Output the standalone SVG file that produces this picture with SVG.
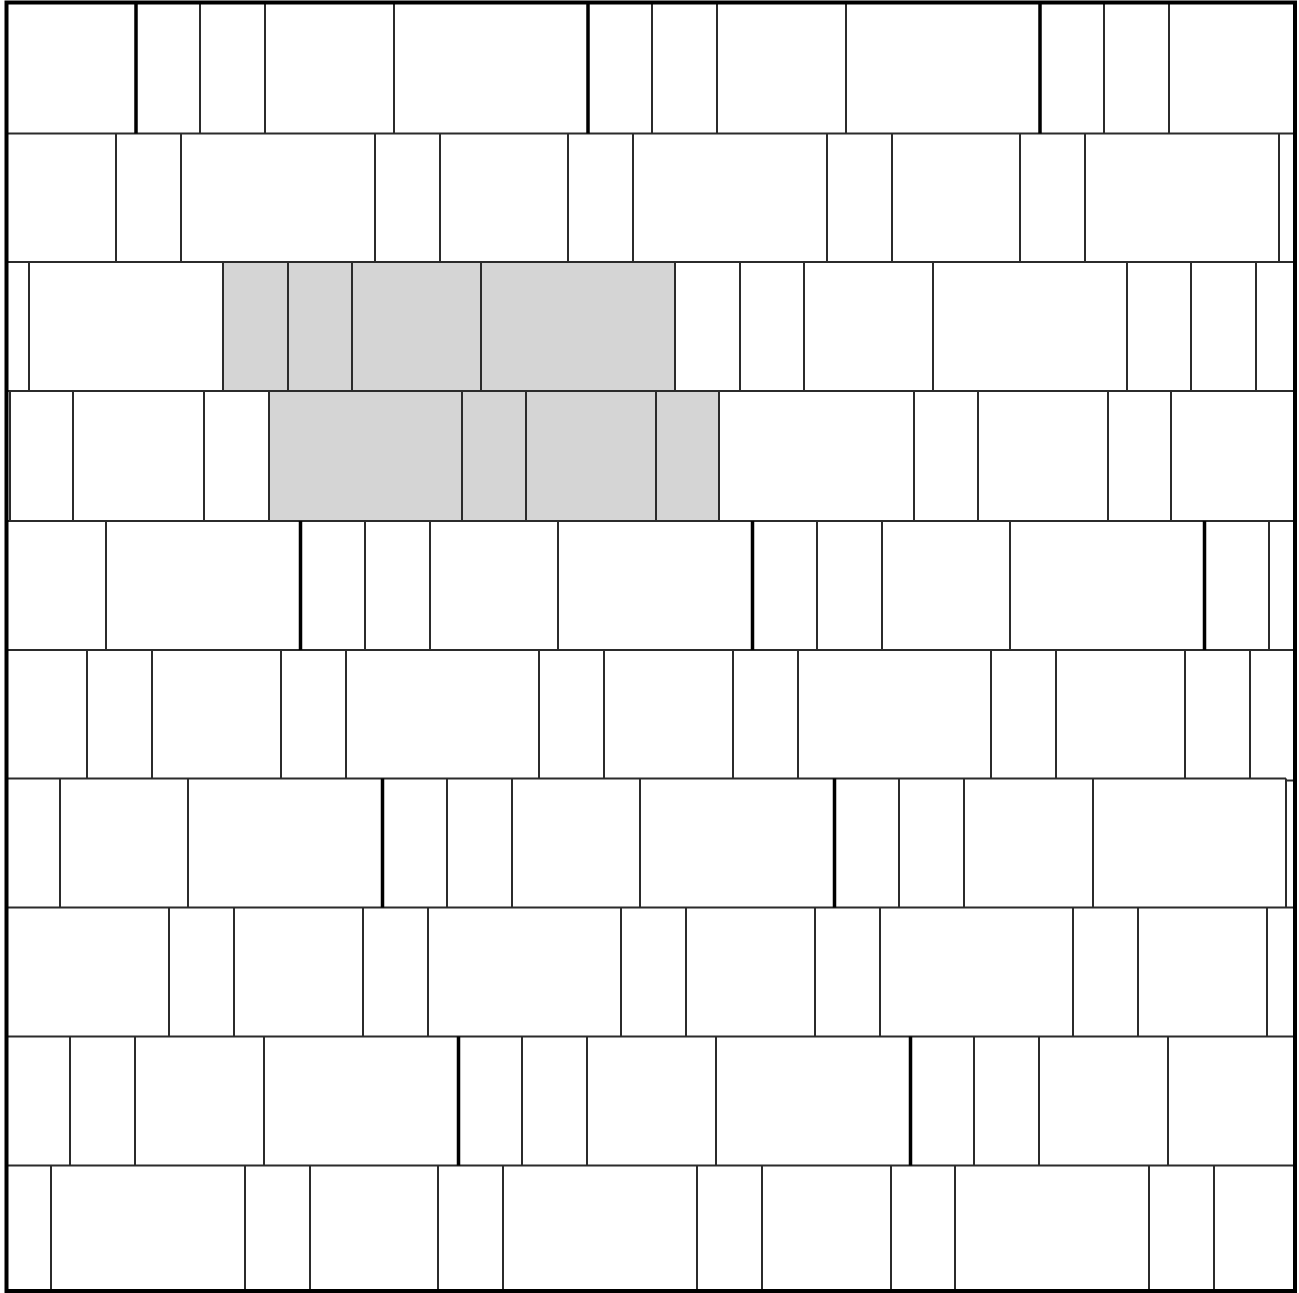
<svg xmlns="http://www.w3.org/2000/svg" width="1299" height="1293" viewBox="0 0 1299 1293">
<style>
.h{stroke:#2b2b2b;stroke-width:2;fill:none}
.v{stroke:#2b2b2b;stroke-width:2;fill:none}
.t{stroke:#000;stroke-width:3.5;fill:none}
.b{stroke:#000;stroke-width:4;fill:none}
.g{fill:#d5d5d5}
</style>
<rect width="1299" height="1293" fill="#fff"/>
<g id="shaded">
<rect class="g" x="223" y="262" width="452" height="129"/>
<rect class="g" x="269" y="391" width="450" height="130"/>
</g>
<g id="horizontal">
<path class="h" d="M6 133.5H1295M6 262H1295M6 391H1295M6 521H1295M6 650H1295M6 778.5H1286M1286 780.5H1295M6 907.5H1295M6 1036.5H1295M6 1165.5H1295"/>
</g>
<g id="row1">
<path class="t" d="M136 4V133.5M588 4V133.5M1040 4V133.5"/>
<path class="v" d="M200 4V133.5M265 4V133.5M394 4V133.5M652 4V133.5M717 4V133.5M846 4V133.5M1104 4V133.5M1169 4V133.5"/>
</g>
<g id="row2">
<path class="v" d="M116 133.5V262M181 133.5V262M375 133.5V262M440 133.5V262M568 133.5V262M633 133.5V262M827 133.5V262M892 133.5V262M1020 133.5V262M1085 133.5V262M1279 133.5V262"/>
</g>
<g id="row3">
<path class="v" d="M29 262V391M223 262V391M288 262V391M352 262V391M481 262V391M675 262V391M740 262V391M804 262V391M933 262V391M1127 262V391M1191 262V391M1256 262V391"/>
</g>
<g id="row4">
<path class="v" d="M10 391V521M73 391V521M204 391V521M269 391V521M462 391V521M526 391V521M656 391V521M719 391V521M914 391V521M978 391V521M1108 391V521M1171 391V521"/>
</g>
<g id="row5">
<path class="t" d="M300.5 521V650M752.5 521V650M1204.5 521V650"/>
<path class="v" d="M106 521V650M365 521V650M430 521V650M558 521V650M817 521V650M882 521V650M1010 521V650M1269 521V650"/>
</g>
<g id="row6">
<path class="v" d="M87 650V778.5M152 650V778.5M281 650V778.5M346 650V778.5M539 650V778.5M604 650V778.5M733 650V778.5M798 650V778.5M991 650V778.5M1056 650V778.5M1185 650V778.5M1250 650V778.5"/>
</g>
<g id="row7">
<path class="t" d="M382.5 778.5V907.5M834.5 778.5V907.5"/>
<path class="v" d="M60 778.5V907.5M188 778.5V907.5M447 778.5V907.5M512 778.5V907.5M640 778.5V907.5M899 778.5V907.5M964 778.5V907.5M1093 778.5V907.5M1286 778.5V907.5"/>
</g>
<g id="row8">
<path class="v" d="M169 907.5V1036.5M234 907.5V1036.5M363 907.5V1036.5M428 907.5V1036.5M621 907.5V1036.5M686 907.5V1036.5M815 907.5V1036.5M880 907.5V1036.5M1073 907.5V1036.5M1138 907.5V1036.5M1267 907.5V1036.5"/>
</g>
<g id="row9">
<path class="t" d="M458.5 1036.5V1165.5M910.5 1036.5V1165.5"/>
<path class="v" d="M70 1036.5V1165.5M135 1036.5V1165.5M264 1036.5V1165.5M522 1036.5V1165.5M587 1036.5V1165.5M716 1036.5V1165.5M974 1036.5V1165.5M1039 1036.5V1165.5M1168 1036.5V1165.5"/>
</g>
<g id="row10">
<path class="v" d="M51 1165.5V1290M245 1165.5V1290M310 1165.5V1290M438 1165.5V1290M503 1165.5V1290M697 1165.5V1290M762 1165.5V1290M891 1165.5V1290M955 1165.5V1290M1149 1165.5V1290M1214 1165.5V1290"/>
</g>
<rect id="border" class="b" x="6.5" y="2.5" width="1288.5" height="1288.5"/>
</svg>
